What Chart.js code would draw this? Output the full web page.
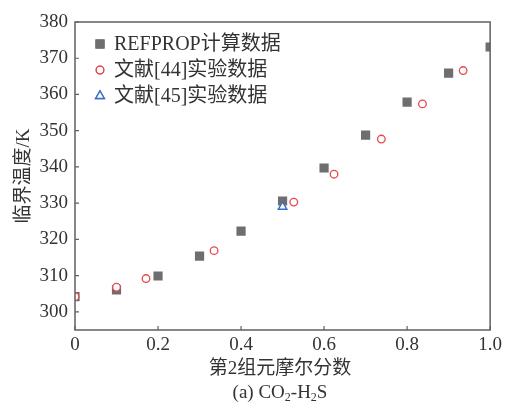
<!DOCTYPE html>
<html>
<head>
<meta charset="utf-8">
<script src="https://cdn.jsdelivr.net/npm/chart.js@4/dist/chart.umd.min.js"></script>
<style>
  html, body { margin: 0; padding: 0; background: #fff; }
  #wrap { width: 506px; height: 411px; }
</style>
</head>
<body>
<div id="wrap"><canvas id="chart"></canvas></div>
<script>
// data
const refX = [0, 0.1, 0.2, 0.3, 0.4, 0.5, 0.6, 0.7, 0.8, 0.9, 1.0];
const refY = [304.2, 306.1, 309.9, 315.4, 322.3, 330.6, 339.7, 348.8, 357.9, 365.9, 373.1];
const lit44X = [0, 0.1, 0.171, 0.335, 0.527, 0.624, 0.738, 0.837, 0.935];
const lit44Y = [304.2, 306.8, 309.2, 316.9, 330.3, 338.0, 347.7, 357.4, 366.6];
const lit45X = [0.5];
const lit45Y = [329.0];
const xTicks = [0, 0.2, 0.4, 0.6, 0.8, 1.0];
const yTicks = [300, 310, 320, 330, 340, 350, 360, 370, 380];
const seriesNames = ['REFPROP计算数据', '文献[44]实验数据', '文献[45]实验数据'];

const FONT = '"Liberation Serif", "Noto Sans CJK SC", serif';
const TEXT = '#333';
const AXIS = '#606060';

const pts = (xs, ys) => xs.map((x, i) => ({ x: x, y: ys[i] }));

// higher order = drawn underneath
const datasets = [
  { label: seriesNames[0], data: pts(refX, refY), pointStyle: 'rect', pointRadius: 6.5, order: 3,
    backgroundColor: '#6e6e6e', borderColor: '#6e6e6e', borderWidth: 0, clip: 0 },
  { label: seriesNames[1], data: pts(lit44X, lit44Y), pointStyle: 'circle', pointRadius: 3.8, order: 2,
    backgroundColor: '#fff', borderColor: '#e5474e', borderWidth: 1.3, clip: 0 },
  { label: seriesNames[2], data: pts(lit45X, lit45Y), pointStyle: 'triangle', pointRadius: 5, order: 1,
    backgroundColor: '#fff', borderColor: '#3a6fc4', borderWidth: 1.4, clip: 0 }
];

const decor = {
  id: 'decor',
  afterDatasetsDraw(chart) {
    const { ctx, chartArea: a, scales } = chart;
    ctx.save();
    // frame
    ctx.strokeStyle = AXIS;
    ctx.lineWidth = 1.5;
    ctx.strokeRect(a.left, a.top, a.right - a.left, a.bottom - a.top);
    // inward ticks
    ctx.lineWidth = 1.2;
    ctx.beginPath();
    xTicks.forEach(v => {
      const px = scales.x.getPixelForValue(v);
      ctx.moveTo(px, a.bottom); ctx.lineTo(px, a.bottom - 4);
    });
    yTicks.forEach(v => {
      const py = scales.y.getPixelForValue(v);
      ctx.moveTo(a.left, py); ctx.lineTo(a.left + 4, py);
    });
    ctx.stroke();

    // legend
    ctx.textBaseline = 'middle';
    ctx.textAlign = 'left';
    datasets.forEach((ds, i) => {
      const y = 44 + i * 26;
      ctx.fillStyle = ds.backgroundColor;
      ctx.strokeStyle = ds.borderColor;
      ctx.lineWidth = ds.borderWidth;
      Chart.helpers.drawPoint(ctx, { pointStyle: ds.pointStyle, radius: ds.pointRadius, borderWidth: ds.borderWidth }, 100, y);
      ctx.fill();
      if (ds.borderWidth) ctx.stroke();
      ctx.font = '20px ' + FONT;
      ctx.fillStyle = TEXT;
      ctx.fillText(ds.label, 114, y + 1);
    });

    // axis titles
    ctx.font = '19px ' + FONT;
    ctx.textAlign = 'center';
    ctx.fillText('第2组元摩尔分数', 280, 369);
    ctx.save();
    ctx.translate(24, (a.top + a.bottom) / 2);
    ctx.rotate(-Math.PI / 2);
    ctx.fillText('临界温度/K', 0, 0);
    ctx.restore();

    // caption with subscripts
    const parts = [['(a) CO', 19, 0], ['2', 12, 5], ['-H', 19, 0], ['2', 12, 5], ['S', 19, 0]];
    let w = 0;
    parts.forEach(p => { ctx.font = p[1] + 'px ' + FONT; w += ctx.measureText(p[0]).width; });
    let x = 280 - w / 2;
    ctx.textAlign = 'left';
    parts.forEach(p => {
      ctx.font = p[1] + 'px ' + FONT;
      ctx.fillText(p[0], x, 393 + p[2]);
      x += ctx.measureText(p[0]).width;
    });
    ctx.restore();
  }
};

new Chart(document.getElementById('chart'), {
  type: 'scatter',
  data: { datasets: datasets },
  options: {
    responsive: true,
    maintainAspectRatio: false,
    animation: false,
    layout: { padding: { top: 22, right: 13, left: 0, bottom: 0 } },
    plugins: { legend: { display: false }, tooltip: { enabled: false } },
    scales: {
      x: {
        type: 'linear', min: 0, max: 1,
        afterBuildTicks: s => { s.ticks = xTicks.map(v => ({ value: v })); },
        afterFit: s => { s.height = 81; },
        grid: { drawOnChartArea: false, drawTicks: false },
        border: { display: false },
        ticks: {
          padding: 4, color: TEXT, font: { family: FONT, size: 19 },
          callback: v => v === 0 ? '0' : v.toFixed(1)
        }
      },
      y: {
        type: 'linear', min: 295, max: 380,
        afterBuildTicks: s => { s.ticks = yTicks.map(v => ({ value: v })); },
        afterFit: s => { s.width = 75; },
        grid: { drawOnChartArea: false, drawTicks: false },
        border: { display: false },
        ticks: { padding: 7, color: TEXT, font: { family: FONT, size: 19 } }
      }
    }
  },
  plugins: [decor]
});
</script>
</body>
</html>
